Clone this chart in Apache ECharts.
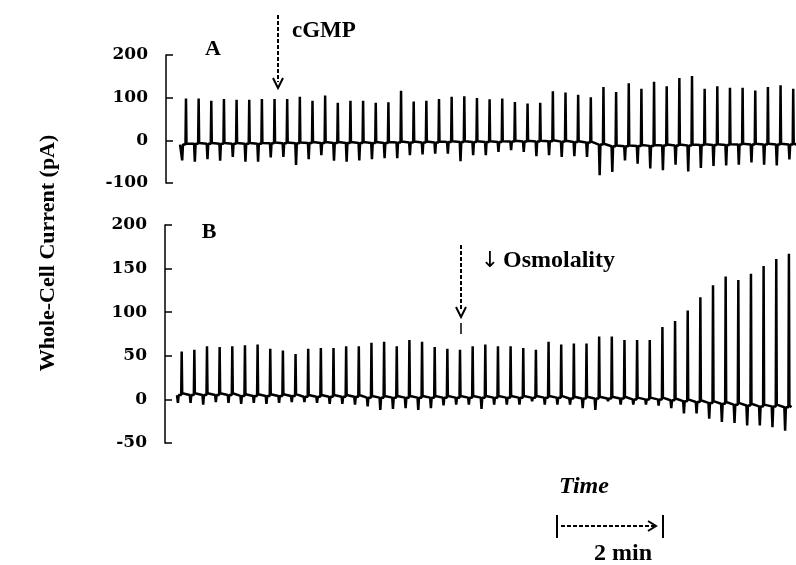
<!DOCTYPE html>
<html>
<head>
<meta charset="utf-8">
<script src="https://cdn.jsdelivr.net/npm/echarts/dist/echarts.min.js"></script>
<style>
  html, body { margin: 0; padding: 0; background: #fff; }
  #chart { width: 796px; height: 565px; }
</style>
</head>
<body>
<div id="chart"></div>
<script>
// 全细胞电流记录，每个刺激周期一个尖峰（按周期序号排列）
const spikeA = [98, 98, 93, 97, 95, 95, 97, 97, 97, 102, 93, 105, 88, 93, 93, 88, 89, 116, 91, 93, 97,
  102, 103, 99, 96, 98, 90, 86, 88, 115, 112, 107, 101, 125, 113, 134, 121, 137, 127, 146,
  151, 121, 127, 123, 123, 117, 125, 129, 121]
const dipA = [-47, -50, -44, -48, -39, -50, -50, -40, -39, -58, -44, -35, -48, -50, -47, -44, -42, -42, -35, -33, -31,
  -31, -49, -35, -35, -27, -23, -27, -37, -35, -39, -37, -39, -82, -74, -47, -55, -66, -70, -57,
  -73, -65, -60, -59, -57, -52, -57, -59, -45]
const baseA = [-10, -8, -8, -8, -8, -8, -8, -7, -7, -7, -6, -6, -6, -6, -6, -6, -6, -5, -5, -5, -5,
  -4, -4, -4, -4, -4, -3, -3, -3, -2, -3, -4, -5, -10, -14, -14, -13, -13, -12, -12,
  -12, -11, -11, -11, -10, -10, -10, -10, -10]

const spikeB = [55, 57, 61, 60, 61, 62, 63, 58, 56, 52, 58, 59, 59, 61, 61, 65, 66, 61, 68, 66, 60, 58,
  57, 61, 63, 61, 61, 59, 57, 66, 63, 64, 64, 72, 72, 68, 68, 68, 83, 90, 102, 117,
  131, 141, 137, 144, 153, 161, 167]
const dipB = [-4, -4, -6, -3, -4, -5, -4, -5, -4, -3, -3, -4, -5, -5, -6, -8, -12, -11, -10, -12, -10, -7,
  -6, -6, -11, -6, -6, -6, -2, -6, -6, -6, -10, -12, -2, -6, -6, -6, -7, -10, -16, -16,
  -22, -26, -27, -30, -30, -32, -36]
const baseB = [5, 5, 5, 5, 5, 4, 4, 4, 4, 4, 3, 3, 3, 3, 3, 2, 2, 2, 2, 2, 2, 2,
  2, 2, 2, 2, 2, 2, 2, 2, 2, 1, 1, 1, 1, 1, 0, 0, 0, -1, -2, -3,
  -4, -5, -6, -7, -8, -8, -9]

// 记录起止（周期单位）
const spanA = [-0.47, 48.3]
const spanB = [-0.37, 48.2]

const ticksA = [-100, 0, 100, 200]
const ticksB = [-50, 0, 50, 100, 150, 200]

function buildTrace (peaks, dips, base, span) {
  const pts = [[span[0], base[0]]]
  peaks.forEach((p, i) => {
    const b = base[i]
    pts.push([i - 0.36, b], [i - 0.3, dips[i]], [i - 0.24, b], [i - 0.04, b], [i, p], [i + 0.04, b + 2])
  })
  pts.push([span[1], base[base.length - 1]])
  return pts
}

const serif = 'Liberation Serif'
const black = '#000'

const yAxisBase = (ticks, gridIndex) => ({
  type: 'value',
  gridIndex,
  min: ticks[0],
  max: ticks[ticks.length - 1],
  interval: ticks[1] - ticks[0],
  axisLine: { show: true, onZero: false, lineStyle: { color: black, width: 1.5 } },
  axisTick: { show: true, inside: true, length: 7, lineStyle: { color: black, width: 1.5 } },
  axisLabel: {
    color: black,
    fontFamily: 'DejaVu Serif',
    fontWeight: 'bold',
    fontSize: 17,
    margin: 18
  },
  splitLine: { show: false }
})

const myChart = echarts.init(document.getElementById('chart'))

const dashed = { stroke: black, lineWidth: 2, lineDash: [4, 2] }
const solid = { stroke: black, lineWidth: 2, fill: null }

const option = {
  animation: false,
  backgroundColor: '#fff',
  grid: [
    { left: 166, right: 0, top: 55, height: 128 },
    { left: 165, right: 0, top: 225, height: 218 }
  ],
  xAxis: [
    { type: 'value', gridIndex: 0, min: -1.58, max: 48.22, show: false },
    { type: 'value', gridIndex: 1, min: -1.32, max: 48.56, show: false }
  ],
  yAxis: [
    yAxisBase(ticksA, 0),
    yAxisBase(ticksB, 1)
  ],
  series: [
    {
      type: 'line',
      xAxisIndex: 0,
      yAxisIndex: 0,
      data: buildTrace(spikeA, dipA, baseA, spanA),
      showSymbol: false,
      lineStyle: { color: black, width: 2.5 }
    },
    {
      type: 'line',
      xAxisIndex: 1,
      yAxisIndex: 1,
      data: buildTrace(spikeB, dipB, baseB, spanB),
      showSymbol: false,
      lineStyle: { color: black, width: 2.5 }
    }
  ],
  graphic: [
    // 纵轴标题
    {
      type: 'text',
      x: 48,
      y: 253,
      rotation: Math.PI / 2,
      style: {
        text: 'Whole-Cell Current (pA)',
        font: `bold 22px "${serif}"`,
        fill: black,
        align: 'center',
        verticalAlign: 'middle'
      }
    },
    { type: 'text', x: 213, y: 49, style: { text: 'A', font: `bold 22px "${serif}"`, fill: black, align: 'center', verticalAlign: 'middle' } },
    { type: 'text', x: 209, y: 232, style: { text: 'B', font: `bold 22px "${serif}"`, fill: black, align: 'center', verticalAlign: 'middle' } },
    // cGMP 箭头
    { type: 'line', shape: { x1: 278, y1: 15, x2: 278, y2: 82 }, style: dashed },
    { type: 'polyline', shape: { points: [[273, 78], [278, 88], [283, 78]] }, style: solid },
    { type: 'text', x: 292, y: 31, style: { text: 'cGMP', font: `bold 23px "${serif}"`, fill: black, align: 'left', verticalAlign: 'middle' } },
    // 渗透压箭头
    { type: 'line', shape: { x1: 461, y1: 245, x2: 461, y2: 311 }, style: dashed },
    { type: 'polyline', shape: { points: [[456, 307], [461, 317], [466, 307]] }, style: solid },
    { type: 'line', shape: { x1: 461, y1: 323, x2: 461, y2: 334 }, style: { stroke: black, lineWidth: 1.5 } },
    { type: 'text', x: 490, y: 261, style: { text: '\u2193', font: '22px "DejaVu Sans"', fill: black, align: 'center', verticalAlign: 'middle' } },
    { type: 'text', x: 503, y: 261, style: { text: 'Osmolality', font: `bold 24px "${serif}"`, fill: black, align: 'left', verticalAlign: 'middle' } },
    // 时间比例尺
    { type: 'text', x: 584, y: 487, style: { text: 'Time', font: `italic bold 24px "${serif}"`, fill: black, align: 'center', verticalAlign: 'middle' } },
    { type: 'line', shape: { x1: 557, y1: 515, x2: 557, y2: 538 }, style: { stroke: black, lineWidth: 2 } },
    { type: 'line', shape: { x1: 663, y1: 515, x2: 663, y2: 538 }, style: { stroke: black, lineWidth: 2 } },
    { type: 'line', shape: { x1: 561, y1: 526, x2: 654, y2: 526 }, style: { stroke: black, lineWidth: 2, lineDash: [4, 2] } },
    { type: 'polyline', shape: { points: [[648, 521], [656, 526], [648, 531]] }, style: solid },
    { type: 'text', x: 623, y: 554, style: { text: '2 min', font: `bold 24px "${serif}"`, fill: black, align: 'center', verticalAlign: 'middle' } }
  ]
}

myChart.setOption(option)
</script>
</body>
</html>
